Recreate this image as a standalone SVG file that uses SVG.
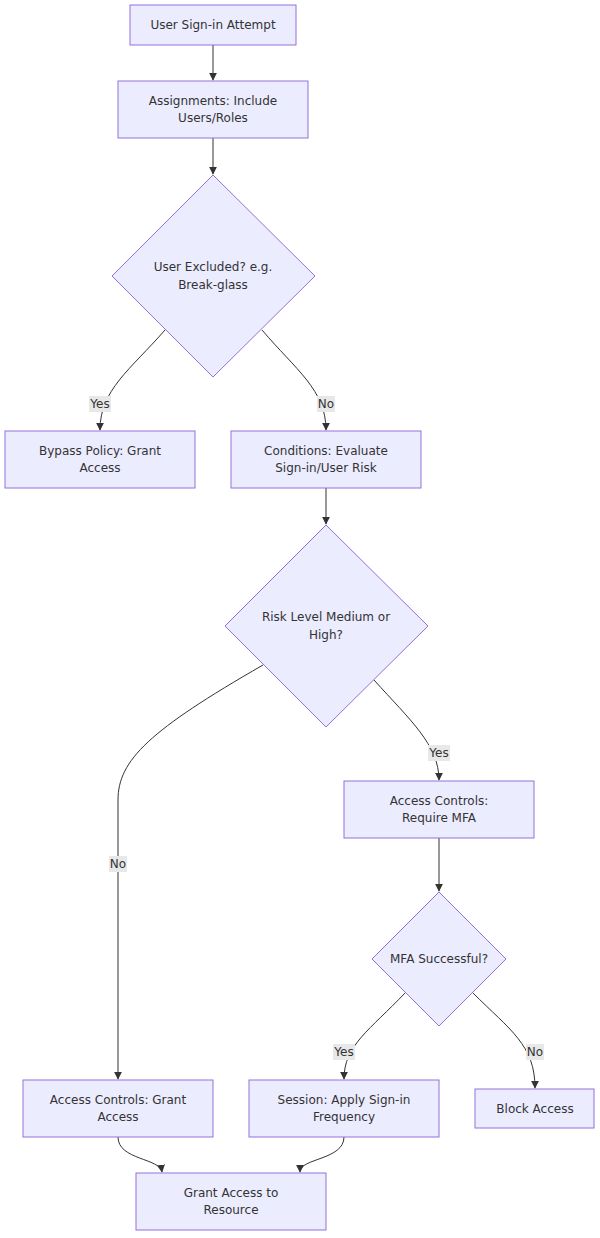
<svg xmlns="http://www.w3.org/2000/svg" width="600" height="1238" viewBox="0 0 600 1238">
<style>
.n{fill:#ECECFF;stroke:#9370DB;stroke-width:1}
.t{font-family:"DejaVu Sans","Liberation Sans",sans-serif;font-size:12px;fill:#333;text-anchor:middle}
.e{fill:none;stroke:#333;stroke-width:1}
.lb{fill:#e8e8e8}
</style>
<defs><marker id="a" viewBox="0 0 10 10" refX="9" refY="5" markerWidth="8" markerHeight="8" orient="auto"><path d="M0,0L10,5L0,10z" fill="#333"/></marker></defs>
<rect width="600" height="1238" fill="#fff"/>
<g id="connectors">
<path class="e" marker-end="url(#a)" d="M213,45L213,80"/>
<path class="e" marker-end="url(#a)" d="M213,138L213,174"/>
<path class="e" marker-end="url(#a)" d="M165,330C130,370 100,390 100,430"/>
<path class="e" marker-end="url(#a)" d="M262,330C296,370 326,390 326,430"/>
<path class="e" marker-end="url(#a)" d="M326,488L326,524"/>
<path class="e" marker-end="url(#a)" d="M263,665C150,730 118,760 118,800L118,1079"/>
<path class="e" marker-end="url(#a)" d="M374,680C410,720 439,745 439,780"/>
<path class="e" marker-end="url(#a)" d="M439,838L439,891"/>
<path class="e" marker-end="url(#a)" d="M405,993C370,1030 344,1045 344,1079"/>
<path class="e" marker-end="url(#a)" d="M473,993C510,1030 535,1045 535,1088"/>
<path class="e" marker-end="url(#a)" d="M118,1137C118,1160 160,1158 162,1172"/>
<path class="e" marker-end="url(#a)" d="M344,1137C344,1160 300,1158 300,1172"/>
<rect class="lb" x="89" y="396" width="22" height="16"/><text class="t" x="100" y="408">Yes</text>
<rect class="lb" x="317" y="396" width="18" height="16"/><text class="t" x="326" y="408">No</text>
<rect class="lb" x="428" y="745" width="22" height="16"/><text class="t" x="439" y="757">Yes</text>
<rect class="lb" x="109" y="856" width="18" height="16"/><text class="t" x="118" y="868">No</text>
<rect class="lb" x="333" y="1044" width="22" height="16"/><text class="t" x="344" y="1056">Yes</text>
<rect class="lb" x="526" y="1044" width="18" height="16"/><text class="t" x="535" y="1056">No</text>
</g>
<g id="n1"><rect class="n" x="130" y="5" width="166" height="40"/><text class="t" x="213" y="29">User Sign-in Attempt</text></g>
<g id="n2"><rect class="n" x="118" y="81" width="190" height="57"/><text class="t" x="213" y="105">Assignments: Include</text><text class="t" x="213" y="122">Users/Roles</text></g>
<g id="d1"><path class="n" d="M213,175L315,276L213,377L112,276z"/><text class="t" x="213" y="271">User Excluded? e.g.</text><text class="t" x="213" y="289">Break-glass</text></g>
<g id="n3"><rect class="n" x="5" y="431" width="190" height="57"/><text class="t" x="100" y="455">Bypass Policy: Grant</text><text class="t" x="100" y="472">Access</text></g>
<g id="n4"><rect class="n" x="231" y="431" width="190" height="57"/><text class="t" x="326" y="455">Conditions: Evaluate</text><text class="t" x="326" y="472">Sign-in/User Risk</text></g>
<g id="d2"><path class="n" d="M326,525L428,626L326,727L225,626z"/><text class="t" x="326" y="621">Risk Level Medium or</text><text class="t" x="326" y="639">High?</text></g>
<g id="n5"><rect class="n" x="344" y="781" width="190" height="57"/><text class="t" x="439" y="805">Access Controls:</text><text class="t" x="439" y="822">Require MFA</text></g>
<g id="d3"><path class="n" d="M439,892L506,959L439,1026L372,959z"/><text class="t" x="439" y="963">MFA Successful?</text></g>
<g id="n6"><rect class="n" x="23" y="1080" width="190" height="57"/><text class="t" x="118" y="1104">Access Controls: Grant</text><text class="t" x="118" y="1121">Access</text></g>
<g id="n7"><rect class="n" x="249" y="1080" width="190" height="57"/><text class="t" x="344" y="1104">Session: Apply Sign-in</text><text class="t" x="344" y="1121">Frequency</text></g>
<g id="n8"><rect class="n" x="475" y="1089" width="119" height="39"/><text class="t" x="535" y="1113">Block Access</text></g>
<g id="n9"><rect class="n" x="136" y="1173" width="190" height="57"/><text class="t" x="231" y="1197">Grant Access to</text><text class="t" x="231" y="1214">Resource</text></g>
</svg>
